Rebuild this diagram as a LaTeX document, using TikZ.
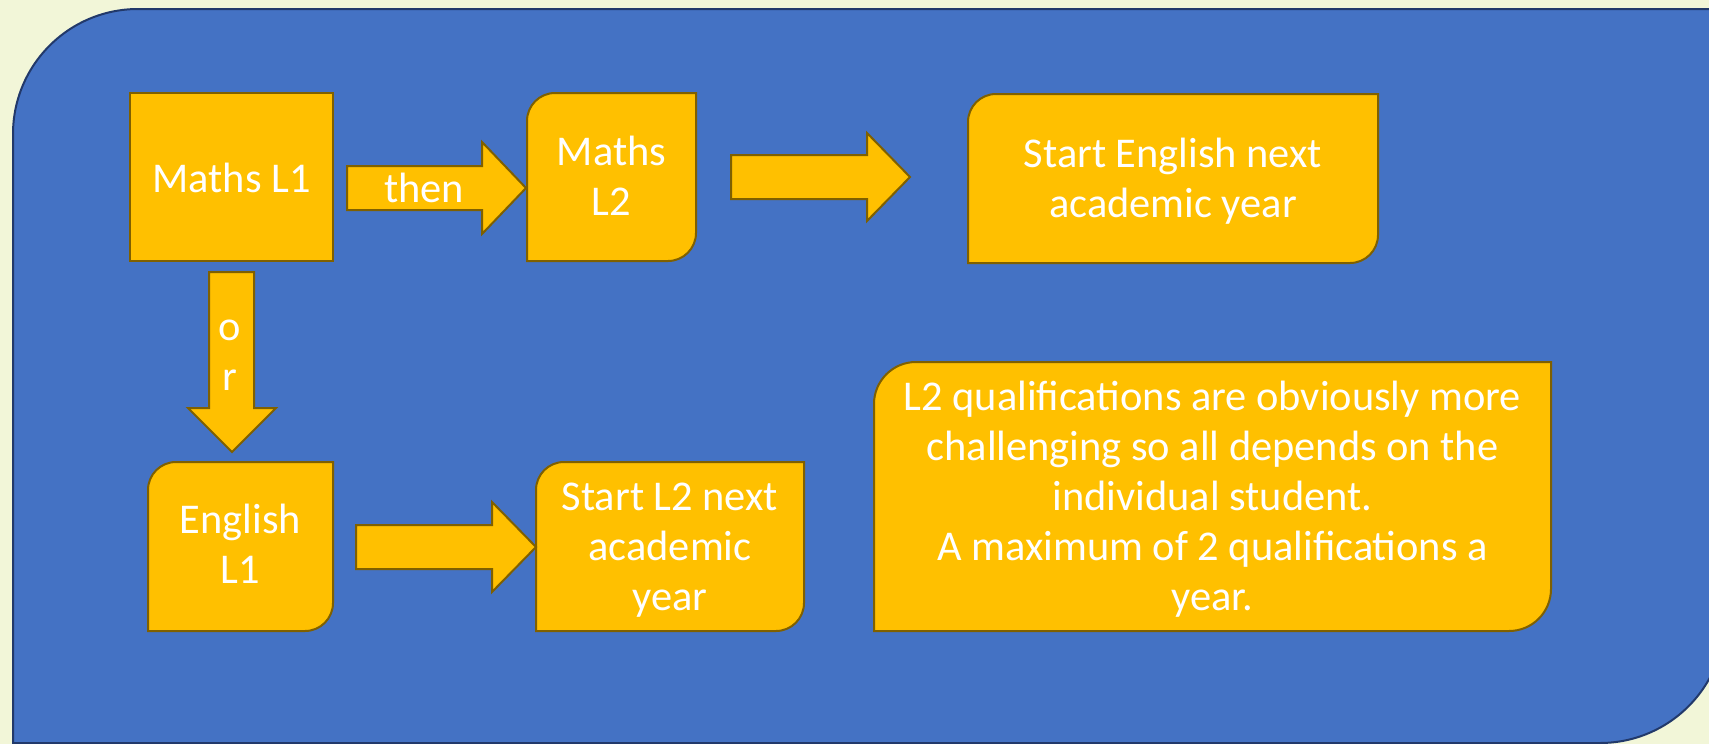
\documentclass[tikz,border=0pt]{standalone}
\usepackage{fontspec}
\setmainfont{Carlito}
\definecolor{bgcream}{HTML}{F2F6D8}
\definecolor{panelblue}{HTML}{4472C4}
\definecolor{panelline}{HTML}{22396A}
\definecolor{boxfill}{HTML}{FFC000}
\definecolor{boxline}{HTML}{7F6000}
\newcommand{\rndbox}[5]{\draw[shapebox] (#1,#2+#5) arc[start angle=180,end angle=270,radius=#5] -- (#3,#2) -- (#3,#4-#5) arc[start angle=0,end angle=90,radius=#5] -- (#1,#4) -- cycle;}
\begin{document}
\begin{tikzpicture}[x=0.5pt,y=-0.5pt,
  shapebox/.style={fill=boxfill,draw=boxline,line width=1pt,line join=miter},
  lbl/.style={text=white,font=\fontsize{21.2}{25}\selectfont,align=center,inner sep=0pt,anchor=center}]
\useasboundingbox (0,0) rectangle (1709,744);
\fill[bgcream] (0,0) rectangle (1709,744);
% panel
\draw[fill=panelblue,draw=panelline,line width=1pt] (13,134) arc[start angle=180,end angle=270,radius=125] -- (1725,9) -- (1725,618) arc[start angle=0,end angle=90,radius=125] -- (13,743) -- cycle;
% boxes
\draw[shapebox] (130,93) rectangle (333,261);
\rndbox{527}{93}{696}{261}{28}
\rndbox{968}{94}{1378}{263}{28}
\rndbox{148}{462}{333}{631}{28}
\rndbox{536}{462}{804}{631}{28}
\rndbox{874}{362}{1551}{631}{42}
% block arrows
\draw[shapebox] (347,166) -- (482,166) -- (482,142) -- (526,188) -- (482,234) -- (482,210) -- (347,210) -- cycle;
\draw[shapebox] (731,155) -- (867,155) -- (867,133) -- (910,177) -- (867,221) -- (867,199) -- (731,199) -- cycle;
\draw[shapebox] (209,272) -- (254,272) -- (254,408) -- (276,408) -- (232,452) -- (188,408) -- (209,408) -- cycle;
\draw[shapebox] (356,525) -- (492,525) -- (492,502) -- (536,547) -- (492,592) -- (492,569) -- (356,569) -- cycle;
% texts
\node[lbl] (mathsone) at (231.5,182) {Maths L1\strut};
\node[lbl] (thenlbl) at (424,192) {then\strut};
\node[lbl] (mathstwo) at (611.5,180) {Maths\strut\\L2\strut};
\node[lbl] (startenglish) at (1173,182) {Start English next\strut\\academic year\strut};
\node[lbl] (orlbl) at (230,355) {o\strut\\r\strut};
\node[lbl] (englishone) at (240.5,548) {English\strut\\L1\strut};
\node[lbl] (starttwo) at (670,550) {Start L2 next\strut\\academic\strut\\year\strut};
\node[lbl] (note) at (1212.5,500) {L2 qualifications are obviously more\strut\\challenging so all depends on the\strut\\individual student.\strut\\A maximum of 2 qualifications a\strut\\year.\strut};
\end{tikzpicture}
\end{document}
